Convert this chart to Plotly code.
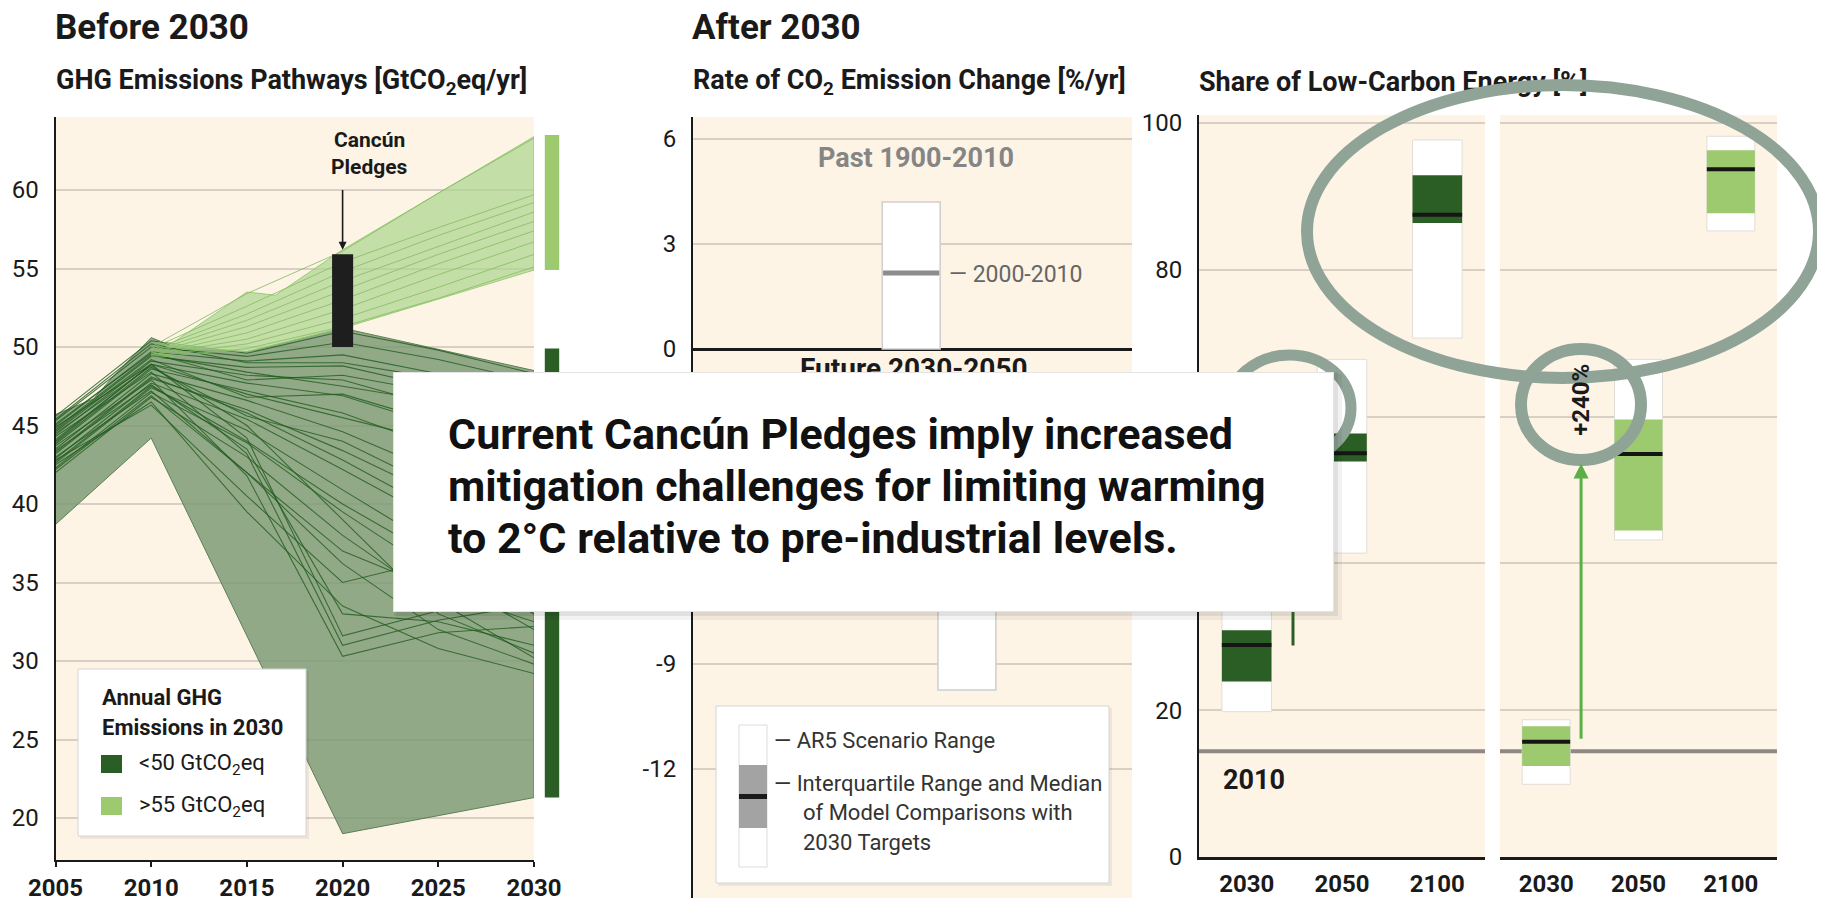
import plotly.graph_objects as go

# The page adds an 8px body margin, so layout is expressed in reference pixels
# and shifted by that offset.
OFF = 8
FW, FH = 1825 - OFF, 901 - OFF
def px(x): return (x - OFF) / FW
def py(y): return 1 - (y - OFF) / FH

FONT = "Roboto, sans-serif"
CREAM = "#fdf4e6"
GRID = "#d9cfc4"
DARK = "#2b5e25"
LIGHT = "#9dc96f"
RING = "#8fa397"
INK = "#1a1a1a"

# ---------------- Panel 1 data: GHG emission pathways ----------------
years = [2005, 2010, 2015, 2020, 2025, 2030]
dark_paths = [
    [45.6, 50.4, 49.6, 51.0, 49.8, 48.3],
    [45.4, 50.2, 49.0, 49.0, 48.0, 47.0],
    [45.3, 50.0, 49.4, 50.3, 49.2, 47.8],
    [45.0, 49.7, 49.1, 49.5, 48.3, 46.9],
    [44.8, 49.5, 48.4, 47.5, 46.5, 45.5],
    [44.7, 49.4, 48.7, 48.8, 47.4, 45.8],
    [44.4, 49.1, 48.2, 47.9, 46.2, 44.4],
    [44.1, 48.9, 47.7, 46.9, 45.0, 42.8],
    [44.0, 48.9, 47.0, 45.5, 44.0, 42.5],
    [43.8, 48.6, 47.2, 45.8, 43.6, 41.0],
    [43.5, 48.3, 46.6, 44.6, 42.0, 39.2],
    [43.3, 48.1, 45.8, 42.8, 39.5, 36.0],
    [43.2, 48.0, 46.0, 43.4, 40.5, 37.4],
    [42.9, 47.7, 45.4, 42.2, 38.9, 35.6],
    [42.7, 47.5, 44.0, 40.0, 36.5, 33.0],
    [42.6, 47.4, 44.7, 40.9, 37.2, 33.8],
    [42.3, 47.1, 43.9, 39.5, 35.5, 32.0],
    [42.2, 46.9, 42.0, 37.0, 34.5, 32.5],
    [42.0, 46.8, 43.0, 38.0, 33.8, 30.2],
    [44.9, 48.9, 44.2, 31.6, 33.2, 34.8],
    [44.5, 48.8, 45.0, 39.0, 33.0, 30.5],
    [44.3, 48.4, 43.2, 31.0, 32.6, 33.6],
    [43.7, 47.9, 41.8, 30.3, 31.8, 32.2],
    [43.4, 47.6, 43.5, 33.0, 32.5, 31.0],
    [43.0, 47.2, 42.0, 36.2, 32.0, 29.8],
    [42.5, 46.5, 39.5, 33.5, 30.8, 29.2],
    [45.1, 49.6, 47.9, 48.2, 47.1, 46.2],
    [44.6, 49.2, 46.8, 47.0, 45.2, 43.5],
    [43.9, 48.7, 45.6, 44.0, 41.0, 38.0],
    [42.8, 46.3, 40.5, 35.0, 36.5, 38.0],
]
light_years = [2010, 2015, 2020, 2025, 2030]
light_paths = [
    [50.0, 53.4, 56.1, 59.8, 63.3],
    [49.9, 52.6, 55.4, 57.6, 59.7],
    [49.8, 52.1, 54.8, 57.1, 59.2],
    [49.7, 51.7, 54.2, 56.4, 58.6],
    [49.6, 51.3, 53.6, 55.9, 58.0],
    [49.5, 50.9, 53.0, 55.3, 57.4],
    [49.5, 50.5, 52.4, 54.6, 56.7],
    [49.4, 50.2, 51.8, 53.8, 55.9],
    [49.3, 49.9, 51.3, 53.1, 55.1],
]
dark_env_upper_x = [2005, 2007, 2008, 2010, 2011, 2015, 2020, 2030]
dark_env_upper_y = [45.7, 46.7, 48.1, 50.6, 50.1, 49.7, 51.2, 48.5]
dark_env_lower_x = [2005, 2010, 2020, 2030]
dark_env_lower_y = [38.7, 44.2, 19.0, 21.3]
light_env_upper_x = [2010.8, 2015, 2016.5, 2020, 2030]
light_env_upper_y = [50.0, 53.5, 53.3, 56.2, 63.4]
light_env_lower_x = [2010.8, 2015, 2020, 2030]
light_env_lower_y = [50.0, 49.7, 51.2, 54.9]
pledge_year, pledge_low, pledge_high = 2020, 50.0, 55.9
range2030_light = [54.9, 63.5]
range2030_dark = [21.3, 49.9]
p1_yticks = [20, 25, 30, 35, 40, 45, 50, 55, 60]
p1_xticks = [2005, 2010, 2015, 2020, 2025, 2030]

# ---------------- Panel 2 data: rate of CO2 emission change ----------------
past_x, past_range, past_median = 0.497, [0.0, 4.2], 2.17
future_x, future_range = 0.624, [-9.74, -1.5]
p2_yticks = [6, 3, 0, -3, -6, -9, -12]
p2_ytext = ["6", "3", "0", "-3", "-6", "-9", "-12"]

# ---------------- Panel 3 data: share of low-carbon energy ----------------
share_cats = ["2030", "2050", "2100"]
a_range_lo = [19.8, 41.4, 70.7]
a_range_hi = [38.0, 67.8, 97.7]
a_iqr_lo = [23.9, 53.9, 86.4]
a_iqr_hi = [30.9, 57.7, 92.9]
a_med = [28.9, 55.0, 87.5]
b_range_lo = [9.9, 43.2, 85.3]
b_range_hi = [18.7, 67.8, 98.2]
b_iqr_lo = [12.4, 44.5, 87.7]
b_iqr_hi = [17.8, 59.6, 96.3]
b_med = [15.7, 54.9, 93.7]
level_2010 = 14.4
p3_yticks = [0, 20, 40, 60, 80, 100]

fig = go.Figure()

# ---- panel 1 ----
fig.add_trace(go.Scatter(
    x=dark_env_upper_x + dark_env_lower_x[::-1],
    y=dark_env_upper_y + dark_env_lower_y[::-1],
    fill="toself", fillcolor="rgba(122,152,115,0.82)", mode="lines",
    line=dict(color="#5d7f57", width=1), hoverinfo="skip"))
for p in dark_paths:
    fig.add_trace(go.Scatter(x=years, y=p, mode="lines",
                             line=dict(color="rgba(33,92,30,0.8)", width=1.1),
                             hoverinfo="skip"))
fig.add_trace(go.Scatter(
    x=light_env_upper_x + light_env_lower_x[::-1],
    y=light_env_upper_y + light_env_lower_y[::-1],
    fill="toself", fillcolor="rgba(173,213,143,0.72)", mode="lines",
    line=dict(color="rgba(150,200,115,0.9)", width=1), hoverinfo="skip"))
for p in light_paths:
    fig.add_trace(go.Scatter(x=light_years, y=p, mode="lines",
                             line=dict(color="rgba(135,190,100,0.85)", width=1),
                             hoverinfo="skip"))
pw = 0.55
fig.add_trace(go.Scatter(
    x=[pledge_year - pw, pledge_year + pw, pledge_year + pw, pledge_year - pw],
    y=[pledge_low, pledge_low, pledge_high, pledge_high],
    fill="toself", fillcolor="#1e1e1e", mode="lines", line=dict(width=0),
    hoverinfo="skip"))
fig.add_trace(go.Bar(x=[0.5, 0.5],
                     y=[range2030_light[1] - range2030_light[0], range2030_dark[1] - range2030_dark[0]],
                     base=[range2030_light[0], range2030_dark[0]], width=0.6,
                     marker=dict(color=[LIGHT, DARK], line=dict(width=0)),
                     xaxis="x5", yaxis="y5", hoverinfo="skip"))

# ---- panel 2 ----
for cx, rng in [(past_x, past_range), (future_x, future_range)]:
    fig.add_trace(go.Bar(x=[cx], y=[rng[1] - rng[0]], base=[rng[0]], width=0.132,
                         marker=dict(color="white", line=dict(color="#cfcfcf", width=1.5)),
                         xaxis="x2", yaxis="y2", hoverinfo="skip"))
fig.add_trace(go.Scatter(x=[past_x - 0.064, past_x + 0.064], y=[past_median, past_median],
                         mode="lines", line=dict(color="#8c8c8c", width=5),
                         xaxis="x2", yaxis="y2", hoverinfo="skip"))

# ---- panel 3 ----
def share_panel(xa, ya, lo, hi, qlo, qhi, med, color):
    xs = list(range(len(share_cats)))
    fig.add_trace(go.Bar(x=xs, y=[h - l for l, h in zip(lo, hi)], base=lo, width=0.52,
                         marker=dict(color="white", line=dict(color="#e2ddd6", width=1)),
                         xaxis=xa, yaxis=ya, hoverinfo="skip"))
    fig.add_trace(go.Bar(x=xs, y=[h - l for l, h in zip(qlo, qhi)], base=qlo, width=0.52,
                         marker=dict(color=color, line=dict(width=0)),
                         xaxis=xa, yaxis=ya, hoverinfo="skip"))
    mx, my = [], []
    for i, m in enumerate(med):
        mx += [i - 0.26, i + 0.26, None]
        my += [m, m, None]
    fig.add_trace(go.Scatter(x=mx, y=my, mode="lines", line=dict(color="#151515", width=4),
                             xaxis=xa, yaxis=ya, hoverinfo="skip"))

share_panel("x3", "y3", a_range_lo, a_range_hi, a_iqr_lo, a_iqr_hi, a_med, DARK)
share_panel("x4", "y4", b_range_lo, b_range_hi, b_iqr_lo, b_iqr_hi, b_med, LIGHT)
fig.add_trace(go.Scatter(x=[0.5], y=[50], mode="markers", marker=dict(opacity=0),
                         xaxis="x6", yaxis="y3", hoverinfo="skip"))

tick_font = dict(family=FONT, size=24, color=INK)
bold_tick = dict(family=FONT, size=24, color=INK, weight="bold")
NOAM = dict(automargin=False, fixedrange=True)

fig.update_layout(
    width=FW, height=FH, margin=dict(l=0, r=0, t=0, b=0, autoexpand=False),
    paper_bgcolor="white", plot_bgcolor="rgba(0,0,0,0)",
    showlegend=False, barmode="overlay", font=dict(family=FONT, color=INK),
    xaxis=dict(domain=[px(55.5), px(534)], range=[2005, 2030], tickvals=p1_xticks,
               ticks="outside", ticklen=5, tickwidth=1.5, tickcolor=INK,
               showline=True, linecolor=INK, linewidth=2, showgrid=False, zeroline=False,
               tickfont=bold_tick, anchor="y", **NOAM),
    yaxis=dict(domain=[py(860), py(117)], range=[17.325, 64.65], tickvals=p1_yticks,
               showgrid=True, gridcolor=GRID, gridwidth=1.5, showline=True, linecolor=INK,
               linewidth=2, ticks="outside", ticklen=10, tickcolor="rgba(0,0,0,0)",
               tickfont=tick_font, zeroline=False, anchor="x", **NOAM),
    xaxis5=dict(domain=[px(540), px(564)], range=[0, 1], visible=False, anchor="y5", **NOAM),
    yaxis5=dict(domain=[py(860), py(117)], range=[17.325, 64.65], visible=False,
                showgrid=False, anchor="x5", **NOAM),
    xaxis2=dict(domain=[px(693), px(1132)], range=[0, 1], visible=False, anchor="y2", **NOAM),
    yaxis2=dict(domain=[py(898), py(117)], range=[-15.686, 6.629], tickvals=p2_yticks,
                ticktext=p2_ytext, showgrid=True, gridcolor=GRID, gridwidth=1.5,
                showline=True, linecolor=INK, linewidth=2, ticks="outside", ticklen=10,
                tickcolor="rgba(0,0,0,0)", tickfont=tick_font, zeroline=True,
                zerolinecolor=INK, zerolinewidth=3, anchor="x2", **NOAM),
    xaxis3=dict(domain=[px(1199), px(1485)], range=[-0.5, 2.5], tickvals=[0, 1, 2],
                ticktext=share_cats, showline=True, linecolor=INK, linewidth=3,
                ticks="outside", ticklen=3, tickcolor="rgba(0,0,0,0)",
                showgrid=False, zeroline=False, tickfont=bold_tick, anchor="y3", **NOAM),
    yaxis3=dict(domain=[py(857), py(115)], range=[0, 101.1], tickvals=p3_yticks,
                showgrid=True, gridcolor=GRID, gridwidth=1.5, showline=True, linecolor=INK,
                linewidth=2, ticks="outside", ticklen=10, tickcolor="rgba(0,0,0,0)",
                tickfont=tick_font, zeroline=False, anchor="x3", **NOAM),
    xaxis4=dict(domain=[px(1500), px(1777)], range=[-0.5, 2.5], tickvals=[0, 1, 2],
                ticktext=share_cats, showline=True, linecolor=INK, linewidth=3,
                ticks="outside", ticklen=3, tickcolor="rgba(0,0,0,0)",
                showgrid=False, zeroline=False, tickfont=bold_tick, anchor="y4", **NOAM),
    yaxis4=dict(domain=[py(857), py(115)], range=[0, 101.1], tickvals=p3_yticks,
                showgrid=True, gridcolor=GRID, gridwidth=1.5, showline=False,
                showticklabels=False, zeroline=False, anchor="x4", **NOAM),
    # panel title drawn as a tick label so the annotation ring can sit over it
    xaxis6=dict(overlaying="x3", range=[0, 1], side="top", tickvals=[0],
                ticktext=["Share of Low-Carbon Energy [%]"], ticklabelposition="outside right",
                ticks="", anchor="free", position=py(96), showgrid=False,
                showline=False, zeroline=False,
                tickfont=dict(family=FONT, size=27, color=INK, weight="bold"), **NOAM),
)

shapes = []
for xr, yr in [("x", "y"), ("x2", "y2"), ("x3", "y3"), ("x4", "y4")]:
    shapes.append(dict(type="rect", xref=xr + " domain", yref=yr + " domain", x0=0, x1=1,
                       y0=0, y1=1, fillcolor=CREAM, line=dict(width=0), layer="below"))
for xr, yr in [("x3", "y3"), ("x4", "y4")]:
    shapes.append(dict(type="line", xref=xr + " domain", yref=yr, x0=0, x1=1,
                       y0=level_2010, y1=level_2010, line=dict(color="#8e8985", width=4),
                       layer="below"))

def prect(x0, y0, x1, y1, fill, line_color=None, lw=0, layer="above"):
    return dict(type="rect", xref="paper", yref="paper", x0=px(x0), x1=px(x1),
                y0=py(y1), y1=py(y0), fillcolor=fill,
                line=dict(color=line_color or fill, width=lw), layer=layer)

shapes.append(prect(80, 671, 309, 839, "rgba(0,0,0,0.06)"))
shapes.append(prect(78, 669, 306, 836, "white", "#d4d4d4", 1))
shapes.append(prect(101, 755, 122, 773, DARK))
shapes.append(prect(101, 797, 122, 815, LIGHT))
shapes.append(prect(718, 708, 1112, 886, "rgba(0,0,0,0.06)"))
shapes.append(prect(716, 706, 1109, 883, "white", "#d4d4d4", 1))
shapes.append(prect(739, 725, 767, 867, "white", "#dcdcdc", 1))
shapes.append(prect(739, 765, 767, 828, "#a3a3a3"))
shapes.append(prect(739, 794, 767, 799, "#1a1a1a"))

def ring(x0, y0, x1, y1, w):
    return dict(type="circle", xref="paper", yref="paper", x0=px(x0), x1=px(x1),
                y0=py(y1), y1=py(y0), line=dict(color=RING, width=w), layer="above")
shapes.append(ring(1307, 85, 1819, 378, 12))
shapes.append(ring(1228, 355, 1351, 461, 11))
shapes.append(ring(1521, 349, 1641, 460, 12))
shapes.append(prect(396, 374, 1342, 620, "rgba(0,0,0,0.05)"))
shapes.append(prect(394, 372, 1338, 616, "rgba(0,0,0,0.07)"))
fig.update_layout(shapes=shapes)

ann = []
def ptext(text, x, y, size, bold=False, color=INK, xanchor="left", yanchor="middle"):
    ann.append(dict(text=text, xref="paper", yref="paper", x=px(x), y=py(y),
                    xanchor=xanchor, yanchor=yanchor, showarrow=False, align="left",
                    font=dict(family=FONT, size=size, color=color,
                              weight="bold" if bold else "normal")))

ptext("Before 2030", 53, 27, 35, True)
ptext("After 2030", 690, 27, 35, True)
ptext("GHG Emissions Pathways [GtCO<sub>2</sub>eq/yr]", 54, 82, 27, True)
ptext("Rate of CO<sub>2</sub> Emission Change [%/yr]", 691, 82, 27, True)
ptext("Cancún", 369, 140, 21, True, xanchor="center")
ptext("Pledges", 369, 167, 21, True, xanchor="center")
ann.append(dict(xref="x", yref="y", axref="x", ayref="y", x=pledge_year, y=56.2,
                ax=pledge_year, ay=60.1, text="", showarrow=True, arrowhead=2,
                arrowsize=1, arrowwidth=1.6, arrowcolor=INK, standoff=0))
ptext("Annual GHG", 100, 697, 22, True)
ptext("Emissions in 2030", 100, 727, 22, True)
ptext("&lt;50 GtCO<sub>2</sub>eq", 137, 764, 22)
ptext("&gt;55 GtCO<sub>2</sub>eq", 137, 806, 22)
ptext("Past 1900-2010", 916, 158, 27, True, color="#858585", xanchor="center")
ptext("— 2000-2010", 947, 274, 23, color="#666666")
ptext("Future 2030-2050", 914, 368, 28, True, xanchor="center")
ptext("— AR5 Scenario Range", 772, 740, 22, color="#333333")
ptext("— Interquartile Range and Median", 772, 783, 22, color="#333333")
ptext("of Model Comparisons with", 801, 812, 22, color="#333333")
ptext("2030 Targets", 801, 842, 22, color="#333333")
ann.append(dict(xref="x3", yref="y3", x=0.08, y=10.5, text="2010", showarrow=False,
                font=dict(family=FONT, size=27, color=INK, weight="bold")))
ann.append(dict(xref="x3", yref="y3", axref="x3", ayref="y3", x=0.486, y=52.0,
                ax=0.486, ay=28.6, text="", showarrow=True, arrowhead=2, arrowsize=1,
                arrowwidth=3, arrowcolor=DARK, standoff=0))
ann.append(dict(xref="x4", yref="y4", axref="x4", ayref="y4", x=0.378, y=53.6,
                ax=0.378, ay=15.9, text="", showarrow=True, arrowhead=2, arrowsize=1,
                arrowwidth=3, arrowcolor="#5cae47", standoff=0))
ann.append(dict(xref="x4", yref="y4", x=0.378, y=62.3, text="+240%", showarrow=False,
                textangle=-90, font=dict(family=FONT, size=24, color=INK, weight="bold")))
ann.append(dict(xref="paper", yref="paper", x=px(393), y=py(372), xanchor="left",
                yanchor="top", text=" ", showarrow=False, width=939, height=238,
                bgcolor="white", bordercolor="#e4e4e4", borderwidth=1, borderpad=0))
overlay_lines = ["Current Cancún Pledges imply increased",
                 "mitigation challenges for limiting warming",
                 "to 2°C relative to pre-industrial levels."]
for line, yc in zip(overlay_lines, [434, 486, 538]):
    ptext(line, 446, yc, 43, True, color="#111111")
fig.update_layout(annotations=ann)

fig.write_html("out.html")
